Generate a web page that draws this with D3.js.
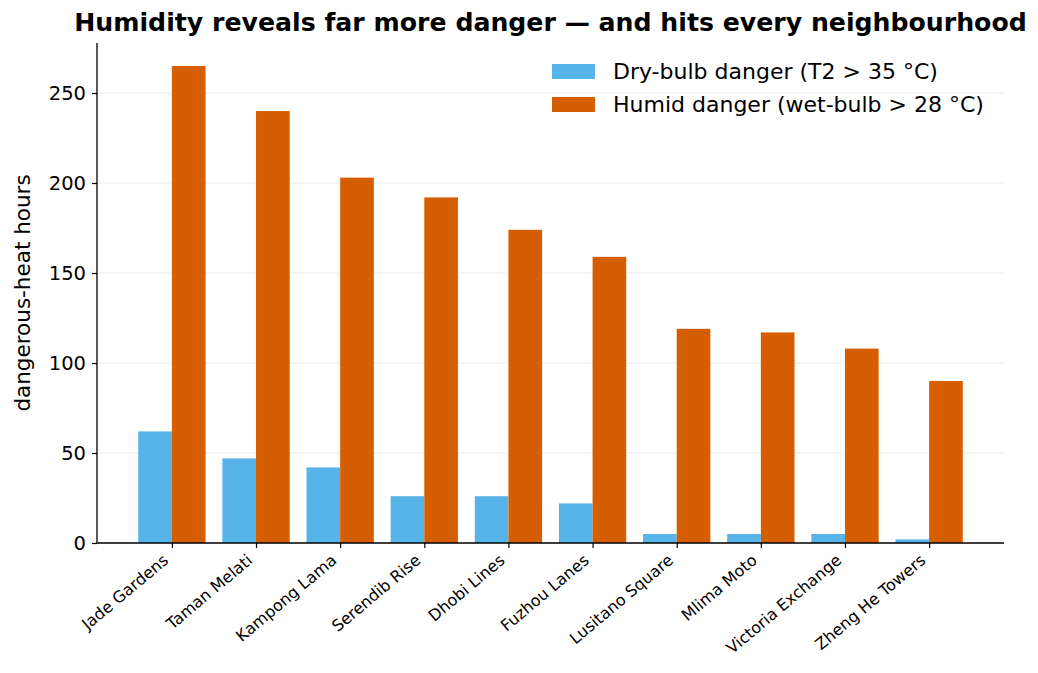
<!DOCTYPE html>
<html>
<head>
<meta charset="utf-8">
<script src="https://cdn.jsdelivr.net/npm/d3@7"></script>
<style>
  body { margin: 0; background: #fff; }
  text { font-family: "DejaVu Sans", sans-serif; }
</style>
</head>
<body>
<div id="vis"></div>
<script>
// data
var neighbourhoods = ["Jade Gardens", "Taman Melati", "Kampong Lama", "Serendib Rise", "Dhobi Lines",
  "Fuzhou Lanes", "Lusitano Square", "Mlima Moto", "Victoria Exchange", "Zheng He Towers"];
var dryHours = [62, 47, 42, 26, 26, 22, 5, 5, 5, 2];
var humidHours = [265, 240, 203, 192, 174, 159, 119, 117, 108, 90];
var yTicks = [0, 50, 100, 150, 200, 250];
var seriesNames = ["Dry-bulb danger (T2 > 35 °C)", "Humid danger (wet-bulb > 28 °C)"];
var seriesColors = ["#56B4E9", "#D55E00"];

var width = 1038, height = 673;
var plotL = 97, plotR = 1004, plotT = 43, plotB = 543;
var barW = 0.4;

var svg = d3.select("#vis").append("svg").attr("width", width).attr("height", height);

// matplotlib-style margins around the bars
var x = d3.scaleLinear().domain([-0.89, 9.89]).range([plotL, plotR]);
var y = d3.scaleLinear().domain([0, 277.8]).range([plotB, plotT]);

// grid
svg.append("g").selectAll("line").data(yTicks).enter().append("line")
    .attr("x1", plotL).attr("x2", plotR)
    .attr("y1", function(d) { return y(d); })
    .attr("y2", function(d) { return y(d); })
    .style("stroke", "#ebebeb")
    .style("stroke-width", 1);

// bars
var series = [dryHours, humidHours];
series.forEach(function(vals, s) {
  svg.append("g").selectAll("rect").data(vals).enter().append("rect")
      .attr("x", function(d, i) { return x(i - barW + s * barW); })
      .attr("width", x(barW) - x(0))
      .attr("y", function(d) { return y(d); })
      .attr("height", function(d) { return y(0) - y(d); })
      .style("fill", seriesColors[s]);
});

// y axis
var yAxis = svg.append("g")
    .attr("transform", "translate(" + plotL + ",0)")
    .call(d3.axisLeft(y).tickValues(yTicks).tickSize(5).tickPadding(6));
yAxis.selectAll("text").style("font-size", "19.5px").style("fill", "#000");
yAxis.select(".domain").attr("d", "M0," + plotT + "V" + plotB).style("stroke", "#000").style("stroke-width", 1.3);
yAxis.selectAll(".tick line").style("stroke", "#000").style("stroke-width", 1.2);

// x axis
var xAxis = svg.append("g")
    .attr("transform", "translate(0," + plotB + ")")
    .call(d3.axisBottom(x).tickValues(d3.range(neighbourhoods.length))
      .tickFormat(function(i) { return neighbourhoods[i]; }).tickSize(5));
xAxis.select(".domain").attr("d", "M" + plotL + ",0H" + plotR).style("stroke", "#000").style("stroke-width", 1.3);
xAxis.selectAll(".tick line").style("stroke", "#000").style("stroke-width", 1.2);
xAxis.selectAll("text")
    .style("font-size", "16px")
    .style("fill", "#000")
    .attr("text-anchor", "end")
    .attr("dy", null)
    .attr("y", 0)
    .attr("transform", "translate(-3,19) rotate(-40)");

// y label
svg.append("text")
    .attr("transform", "translate(30," + ((plotT + plotB) / 2) + ") rotate(-90)")
    .attr("text-anchor", "middle")
    .style("font-size", "21.5px")
    .text("dangerous-heat hours");

// title
svg.append("text")
    .attr("x", (plotL + plotR) / 2)
    .attr("y", 31)
    .attr("text-anchor", "middle")
    .style("font-size", "25.2px")
    .style("font-weight", "bold")
    .text("Humidity reveals far more danger — and hits every neighbourhood");

// legend
var legend = svg.append("g").attr("transform", "translate(552,64)");
seriesNames.forEach(function(name, i) {
  legend.append("rect")
      .attr("x", 0).attr("y", i * 33)
      .attr("width", 43).attr("height", 15)
      .style("fill", seriesColors[i]);
  legend.append("text")
      .attr("x", 61).attr("y", i * 33 + 15)
      .style("font-size", "22px")
      .text(name);
});
</script>
</body>
</html>
